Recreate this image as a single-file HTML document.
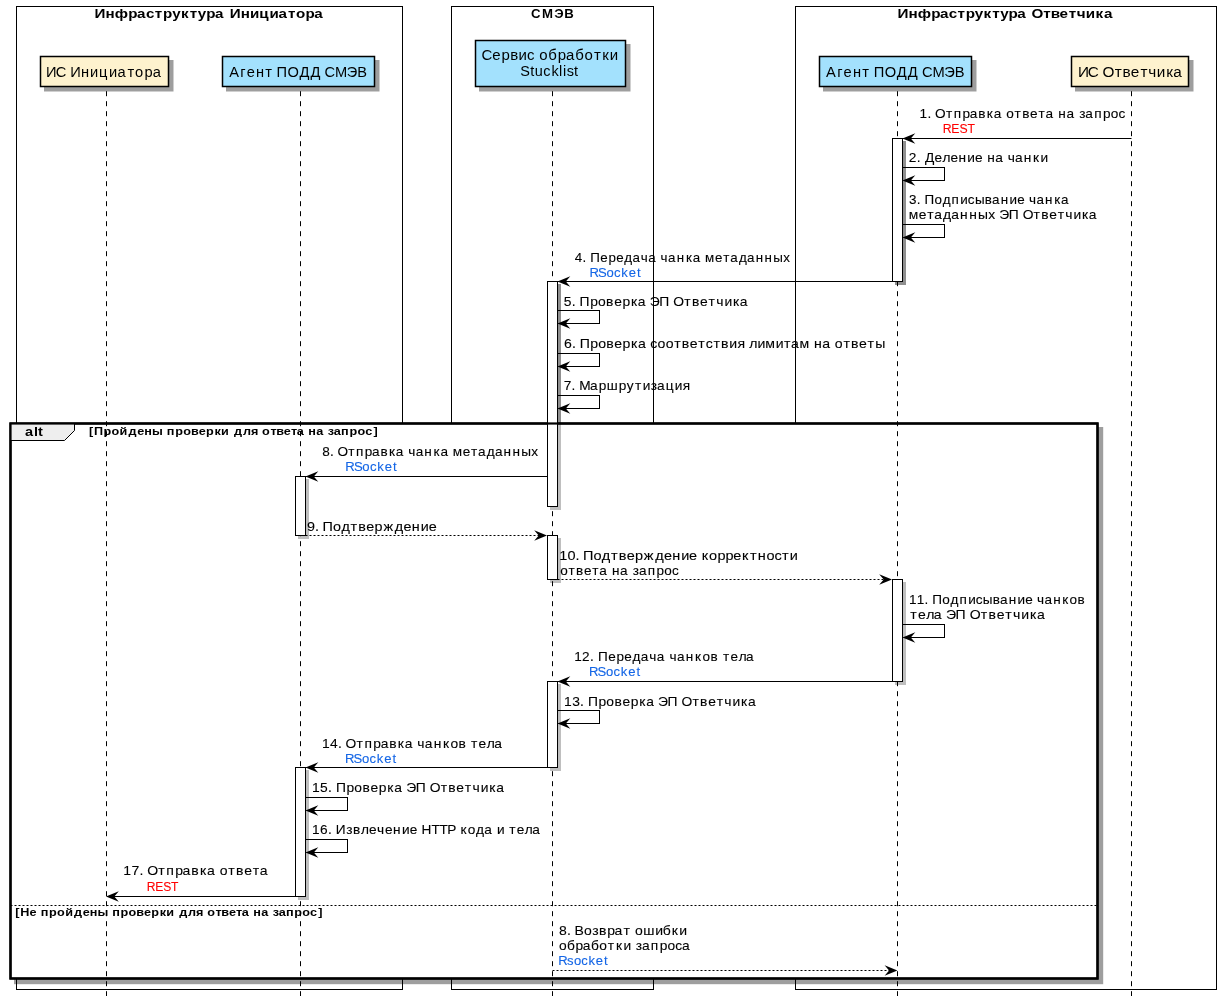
<!DOCTYPE html>
<html><head><meta charset="utf-8"><title>Sequence</title>
<style>
html,body{margin:0;padding:0;background:#fff;overflow:hidden;}
svg{display:block;will-change:transform;}
text{font-family:"Liberation Sans",sans-serif;}
</style></head>
<body>
<svg width="1221" height="1001" viewBox="0 0 1221 1001">

<rect x="0" y="0" width="1221" height="1001" fill="#fff"/>
<rect x="16.5" y="6.5" width="386.0" height="983.0" fill="#fff" stroke="#000" stroke-width="1"/>
<rect x="451.5" y="6.5" width="202.0" height="983.0" fill="#fff" stroke="#000" stroke-width="1"/>
<rect x="795.5" y="6.5" width="421.0" height="983.0" fill="#fff" stroke="#000" stroke-width="1"/>
<text transform="scale(1.1173,1)" x="84.49 94.49 102.70 114.83 122.69 130.70 138.61 146.00 154.13 162.00 169.79 177.06 184.52 192.38 200.85 205.54 215.53 223.77 232.10 241.20 249.24 257.82 264.98 273.47 281.33" y="17.90" font-size="13.58" font-weight="bold" stroke="#000" stroke-width="0.0">Инфраструктура Инициатора</text>
<text transform="scale(0.9721,1)" x="546.19 557.64 570.27 580.47" y="17.80" font-size="13.58" font-weight="bold" stroke="#000" stroke-width="0.0">СМЭВ</text>
<text transform="scale(1.1222,1)" x="799.72 809.62 817.74 829.76 837.55 845.48 853.32 860.63 868.68 876.46 884.18 891.38 898.76 906.54 914.96 919.24 929.58 936.34 944.17 952.27 959.46 967.58 976.33 983.71" y="17.90" font-size="13.58" font-weight="bold" stroke="#000" stroke-width="0.0">Инфраструктура Ответчика</text>
<rect x="44.00" y="60.00" width="129.50" height="31.50" fill="#000" fill-opacity="0.38"/>
<rect x="40.5" y="56.5" width="128.0" height="30.0" fill="#FEF2CE" stroke="#000" stroke-width="1.5"/>
<rect x="226.00" y="60.00" width="153.50" height="31.50" fill="#000" fill-opacity="0.38"/>
<rect x="222.5" y="56.5" width="152.0" height="30.0" fill="#A3E1FD" stroke="#000" stroke-width="1.5"/>
<rect x="479.00" y="44.00" width="151.50" height="47.50" fill="#000" fill-opacity="0.38"/>
<rect x="475.5" y="40.5" width="150.0" height="46.0" fill="#A3E1FD" stroke="#000" stroke-width="1.5"/>
<rect x="823.00" y="60.00" width="153.50" height="31.50" fill="#000" fill-opacity="0.38"/>
<rect x="819.5" y="56.5" width="152.0" height="30.0" fill="#A3E1FD" stroke="#000" stroke-width="1.5"/>
<rect x="1075.00" y="60.00" width="118.50" height="31.50" fill="#000" fill-opacity="0.38"/>
<rect x="1071.5" y="56.5" width="117.0" height="30.0" fill="#FEF2CE" stroke="#000" stroke-width="1.5"/>
<text transform="scale(1.0037,1)" x="45.95 55.54 66.04 70.07 80.67 89.64 98.77 108.73 117.01 127.08 134.61 143.91 152.18" y="76.80" font-size="14.63" stroke="#000" stroke-width="0.0">ИС Инициатора</text>
<text transform="scale(1.0000,1)" x="229.14 240.32 246.64 255.98 265.24 272.55 276.61 287.54 299.40 310.49 320.93 324.53 335.05 346.68 357.17" y="76.80" font-size="14.63" stroke="#000" stroke-width="0.0">Агент ПОДД СМЭВ</text>
<text transform="scale(1.0262,1)" x="469.12 479.65 488.64 497.26 505.27 513.65 521.53 525.56 534.15 543.40 551.45 560.55 569.57 578.88 586.87 594.25" y="60.00" font-size="14.63" stroke="#000" stroke-width="0.0">Сервис обработки</text>
<text transform="scale(0.9900,1)" x="525.63 535.56 540.13 548.69 557.04 564.78 568.73 572.40 579.90" y="76.30" font-size="14.63" stroke="#000" stroke-width="0.0">Stucklist</text>
<text transform="scale(1.0051,1)" x="821.85 833.02 839.34 848.69 857.95 865.25 869.32 880.24 892.10 903.19 913.64 917.24 927.75 939.39 949.87" y="76.80" font-size="14.63" stroke="#000" stroke-width="0.0">Агент ПОДД СМЭВ</text>
<text transform="scale(1.0476,1)" x="1028.95 1038.32 1048.71 1052.36 1064.10 1071.49 1079.34 1088.65 1096.06 1104.09 1113.37 1120.03" y="76.60" font-size="14.63" stroke="#000" stroke-width="0.0">ИС Ответчика</text>
<rect x="895.00" y="141.00" width="11.00" height="144.00" fill="#000" fill-opacity="0.25"/>
<rect x="892.5" y="138.5" width="10" height="143.0" fill="#fff" stroke="#000" stroke-width="1"/>
<rect x="550.00" y="284.00" width="11.00" height="226.00" fill="#000" fill-opacity="0.25"/>
<rect x="547.5" y="281.5" width="10" height="225.0" fill="#fff" stroke="#000" stroke-width="1"/>
<rect x="298.00" y="479.00" width="11.00" height="60.00" fill="#000" fill-opacity="0.25"/>
<rect x="295.5" y="476.5" width="10" height="59.0" fill="#fff" stroke="#000" stroke-width="1"/>
<rect x="550.00" y="538.00" width="11.00" height="45.00" fill="#000" fill-opacity="0.25"/>
<rect x="547.5" y="535.5" width="10" height="44.0" fill="#fff" stroke="#000" stroke-width="1"/>
<rect x="895.00" y="582.00" width="11.00" height="103.00" fill="#000" fill-opacity="0.25"/>
<rect x="892.5" y="579.5" width="10" height="102.0" fill="#fff" stroke="#000" stroke-width="1"/>
<rect x="550.00" y="684.00" width="11.00" height="87.00" fill="#000" fill-opacity="0.25"/>
<rect x="547.5" y="681.5" width="10" height="86.0" fill="#fff" stroke="#000" stroke-width="1"/>
<rect x="298.00" y="770.00" width="11.00" height="130.00" fill="#000" fill-opacity="0.25"/>
<rect x="295.5" y="767.5" width="10" height="129.0" fill="#fff" stroke="#000" stroke-width="1"/>
<rect x="14.00" y="427.00" width="1089.20" height="557.20" fill="#000" fill-opacity="0.38"/>
<rect x="10.5" y="423.5" width="1087.0" height="555.0" fill="#fff" stroke="#000" stroke-width="2.2"/>
<polygon points="10.5,423.5 74.5,423.5 74.5,430.5 64.5,440.5 10.5,440.5" fill="#EEEEEE" stroke="#000" stroke-width="1"/>
<text transform="scale(1.0715,1)" x="23.30 31.62 35.45" y="435.80" font-size="13.58" font-weight="bold" stroke="#000" stroke-width="0.0">alt</text>
<text transform="scale(1.1036,1)" x="80.75 85.28 93.70 100.93 108.40 116.33 124.36 130.71 137.81 147.37 151.15 158.72 165.95 173.11 180.10 186.59 194.36 200.37 207.75 212.02 220.12 227.33 233.77 237.48 245.05 250.21 257.20 263.63 268.93 275.57 279.34 286.58 293.22 297.02 302.37 309.07 316.64 323.87 330.96 338.39" y="435.30" font-size="11.49" font-weight="bold" stroke="#000" stroke-width="0.0">[Пройдены проверки для ответа на запрос]</text>
<line x1="10.5" y1="905.5" x2="1097.5" y2="905.5" stroke="#000" stroke-width="1" stroke-dasharray="2,2"/>
<text transform="scale(1.1027,1)" x="13.89 18.39 26.82 33.10 36.86 44.42 51.64 59.10 67.02 75.03 81.36 88.45 98.00 101.76 109.32 116.53 123.68 130.65 137.13 144.89 150.88 158.26 162.51 170.59 177.79 184.22 187.92 195.48 200.63 207.60 214.02 219.31 225.94 229.70 236.92 243.55 247.34 252.68 259.37 266.93 274.14 281.21 288.63" y="916.20" font-size="11.49" font-weight="bold" stroke="#000" stroke-width="0.0">[Не пройдены проверки для ответа на запрос]</text>
<line x1="106.5" y1="91.2" x2="106.5" y2="996" stroke="#000" stroke-width="1" stroke-dasharray="5,5"/>
<line x1="300.5" y1="91.2" x2="300.5" y2="996" stroke="#000" stroke-width="1" stroke-dasharray="5,5"/>
<line x1="552.5" y1="91.2" x2="552.5" y2="996" stroke="#000" stroke-width="1" stroke-dasharray="5,5"/>
<line x1="897.5" y1="91.2" x2="897.5" y2="996" stroke="#000" stroke-width="1" stroke-dasharray="5,5"/>
<line x1="1131.5" y1="91.2" x2="1131.5" y2="996" stroke="#000" stroke-width="1" stroke-dasharray="5,5"/>
<rect x="895.00" y="141.00" width="11.00" height="144.00" fill="#000" fill-opacity="0.25"/>
<rect x="892.5" y="138.5" width="10" height="143.0" fill="#fff" stroke="#000" stroke-width="1"/>
<rect x="550.00" y="284.00" width="11.00" height="226.00" fill="#000" fill-opacity="0.25"/>
<rect x="547.5" y="281.5" width="10" height="225.0" fill="#fff" stroke="#000" stroke-width="1"/>
<rect x="298.00" y="479.00" width="11.00" height="60.00" fill="#000" fill-opacity="0.25"/>
<rect x="295.5" y="476.5" width="10" height="59.0" fill="#fff" stroke="#000" stroke-width="1"/>
<rect x="550.00" y="538.00" width="11.00" height="45.00" fill="#000" fill-opacity="0.25"/>
<rect x="547.5" y="535.5" width="10" height="44.0" fill="#fff" stroke="#000" stroke-width="1"/>
<rect x="895.00" y="582.00" width="11.00" height="103.00" fill="#000" fill-opacity="0.25"/>
<rect x="892.5" y="579.5" width="10" height="102.0" fill="#fff" stroke="#000" stroke-width="1"/>
<rect x="550.00" y="684.00" width="11.00" height="87.00" fill="#000" fill-opacity="0.25"/>
<rect x="547.5" y="681.5" width="10" height="86.0" fill="#fff" stroke="#000" stroke-width="1"/>
<rect x="298.00" y="770.00" width="11.00" height="130.00" fill="#000" fill-opacity="0.25"/>
<rect x="295.5" y="767.5" width="10" height="129.0" fill="#fff" stroke="#000" stroke-width="1"/>
<rect x="10.5" y="423.5" width="1087" height="555" fill="none" stroke="#000" stroke-width="2.2"/>
<line x1="1131.5" y1="138.5" x2="903" y2="138.5" stroke="#000" stroke-width="1"/>
<polygon points="915.30,133.30 902.50,138.50 915.30,143.70 910.80,138.50" fill="#000"/>
<text transform="scale(1.0049,1)" x="915.11 922.95 926.76 930.51 941.27 949.10 957.87 965.10 973.56 982.07 988.88 997.13 1001.26 1009.66 1017.17 1025.09 1033.45 1040.42 1048.67 1053.09 1061.24 1069.48 1073.89 1080.07 1088.85 1097.63 1105.33 1113.08" y="118.00" font-size="13.58" stroke="#000" stroke-width="0.1">1. Отправка ответа на запрос</text>
<text transform="scale(0.9023,1)" x="1044.84 1054.37 1063.27 1072.19" y="133.10" font-size="13.58" fill="#FF0000" stroke="#FF0000" stroke-width="0.1">REST</text>
<line x1="902.5" y1="167.5" x2="944.5" y2="167.5" stroke="#000" stroke-width="1"/>
<line x1="944.5" y1="167.0" x2="944.5" y2="181.0" stroke="#000" stroke-width="1"/>
<line x1="944.5" y1="180.5" x2="903.5" y2="180.5" stroke="#000" stroke-width="1"/>
<polygon points="915.30,175.30 902.50,180.50 915.30,185.70 910.80,180.50" fill="#000"/>
<text transform="scale(1.0098,1)" x="900.01 907.87 911.66 916.01 925.51 933.42 941.16 949.23 957.96 965.61 973.27 977.59 985.62 993.81 997.90 1005.18 1013.78 1022.92 1030.34" y="162.20" font-size="13.58" stroke="#000" stroke-width="0.1">2. Деление на чанки</text>
<line x1="902.5" y1="224.5" x2="944.5" y2="224.5" stroke="#000" stroke-width="1"/>
<line x1="944.5" y1="224.0" x2="944.5" y2="238.0" stroke="#000" stroke-width="1"/>
<line x1="944.5" y1="237.5" x2="903.5" y2="237.5" stroke="#000" stroke-width="1"/>
<polygon points="915.30,232.30 902.50,237.50 915.30,242.70 910.80,237.50" fill="#000"/>
<text transform="scale(0.9900,1)" x="918.27 926.04 929.86 933.80 943.96 952.29 961.23 970.04 977.59 984.79 994.73 1002.15 1010.88 1019.76 1027.54 1035.27 1039.48 1046.90 1055.63 1064.92 1071.76" y="203.60" font-size="13.58" stroke="#000" stroke-width="0.1">3. Подписывание чанка</text>
<text transform="scale(1.0194,1)" x="891.35 901.22 909.53 916.45 925.18 933.19 941.84 950.70 959.31 969.34 976.85 980.25 989.57 999.50 1003.19 1013.90 1021.35 1029.22 1037.53 1044.99 1053.03 1061.32 1068.08" y="218.60" font-size="13.58" stroke="#000" stroke-width="0.1">метаданных ЭП Ответчика</text>
<line x1="892.5" y1="281.5" x2="558" y2="281.5" stroke="#000" stroke-width="1"/>
<polygon points="570.30,276.30 557.50,281.50 570.30,286.70 565.80,281.50" fill="#000"/>
<text transform="scale(0.9853,1)" x="583.34 591.17 595.00 599.02 609.30 617.50 625.34 633.70 641.86 650.42 657.90 666.19 670.47 677.95 686.76 696.12 703.02 711.32 715.57 725.61 734.06 741.12 750.01 758.17 766.97 776.00 784.79 794.97" y="261.90" font-size="13.58" stroke="#000" stroke-width="0.1">4. Передача чанка метаданных</text>
<text transform="scale(0.9656,1)" x="610.48 619.39 627.99 635.88 643.39 651.23 659.66" y="276.80" font-size="13.58" fill="#1466E6" stroke="#1466E6" stroke-width="0.1">RSocket</text>
<line x1="557.5" y1="310.5" x2="599.5" y2="310.5" stroke="#000" stroke-width="1"/>
<line x1="599.5" y1="310.0" x2="599.5" y2="324.0" stroke="#000" stroke-width="1"/>
<line x1="599.5" y1="323.5" x2="558.5" y2="323.5" stroke="#000" stroke-width="1"/>
<polygon points="570.30,318.30 557.50,323.50 570.30,328.70 565.80,323.50" fill="#000"/>
<text transform="scale(1.0228,1)" x="551.20 558.99 562.79 566.67 576.98 584.65 592.60 600.49 608.57 616.87 623.65 631.88 635.30 644.64 654.58 658.30 669.03 676.50 684.39 692.72 700.19 708.26 716.56 723.34" y="305.80" font-size="13.58" stroke="#000" stroke-width="0.1">5. Проверка ЭП Ответчика</text>
<line x1="557.5" y1="353.5" x2="599.5" y2="353.5" stroke="#000" stroke-width="1"/>
<line x1="599.5" y1="353.0" x2="599.5" y2="367.0" stroke="#000" stroke-width="1"/>
<line x1="599.5" y1="366.5" x2="558.5" y2="366.5" stroke="#000" stroke-width="1"/>
<polygon points="570.30,361.30 557.50,366.50 570.30,371.70 565.80,366.50" fill="#000"/>
<text transform="scale(1.0382,1)" x="543.29 550.94 554.71 558.43 568.59 576.13 583.95 591.70 599.64 607.81 614.46 622.62 626.42 633.38 641.14 649.38 656.71 664.47 672.67 679.78 687.22 694.55 702.48 710.29 717.70 721.80 729.65 737.19 747.11 755.13 761.94 770.18 779.80 784.05 792.02 800.17 804.14 812.38 819.71 827.47 835.66 842.97" y="347.70" font-size="13.58" stroke="#000" stroke-width="0.1">6. Проверка соответствия лимитам на ответы</text>
<line x1="557.5" y1="395.5" x2="599.5" y2="395.5" stroke="#000" stroke-width="1"/>
<line x1="599.5" y1="395.0" x2="599.5" y2="409.0" stroke="#000" stroke-width="1"/>
<line x1="599.5" y1="408.5" x2="558.5" y2="408.5" stroke="#000" stroke-width="1"/>
<polygon points="570.30,403.30 557.50,408.50 570.30,413.70 565.80,408.50" fill="#000"/>
<text transform="scale(1.0069,1)" x="559.90 567.69 571.50 575.38 586.07 594.72 602.71 614.56 622.51 630.68 638.36 646.35 652.54 661.26 670.11 678.08" y="390.00" font-size="13.58" stroke="#000" stroke-width="0.1">7. Маршрутизация</text>
<line x1="547.5" y1="476.5" x2="306" y2="476.5" stroke="#000" stroke-width="1"/>
<polygon points="318.30,471.30 305.50,476.50 318.30,481.70 313.80,476.50" fill="#000"/>
<text transform="scale(1.0010,1)" x="321.90 329.66 333.46 337.20 347.95 355.76 364.52 371.73 380.17 388.67 395.47 403.71 407.88 415.26 423.95 433.19 439.99 448.23 452.37 462.29 470.63 477.59 486.36 494.41 503.10 512.00 520.66 530.73" y="456.20" font-size="13.58" stroke="#000" stroke-width="0.1">8. Отправка чанка метаданных</text>
<text transform="scale(0.9685,1)" x="356.56 365.47 374.07 381.96 389.47 397.31 405.74" y="471.30" font-size="13.58" fill="#1466E6" stroke="#1466E6" stroke-width="0.1">RSocket</text>
<line x1="305.5" y1="535.5" x2="546" y2="535.5" stroke="#000" stroke-width="1" stroke-dasharray="2,2"/>
<polygon points="534.20,530.30 547.00,535.50 534.20,540.70 538.70,535.50" fill="#000"/>
<text transform="scale(1.0598,1)" x="289.58 297.14 300.87 304.42 314.18 322.13 330.82 337.98 345.58 353.35 361.76 372.50 380.75 388.59 397.07 404.50" y="530.80" font-size="13.58" stroke="#000" stroke-width="0.1">9. Подтверждение</text>
<line x1="557.5" y1="579.5" x2="891" y2="579.5" stroke="#000" stroke-width="1" stroke-dasharray="2,2"/>
<polygon points="879.20,574.30 892.00,579.50 879.20,584.70 883.70,579.50" fill="#000"/>
<text transform="scale(1.0682,1)" x="523.58 531.19 538.67 542.38 545.86 555.54 563.42 572.04 579.13 586.67 594.36 602.69 613.35 621.52 629.29 637.70 645.07 652.59 656.94 663.86 671.60 679.14 686.51 694.62 702.02 709.36 717.55 724.94 732.17 739.43" y="560.30" font-size="13.58" stroke="#000" stroke-width="0.1">10. Подтверждение корректности</text>
<text transform="scale(0.9993,1)" x="560.54 568.94 576.45 584.37 592.73 599.70 607.95 612.37 620.52 628.76 633.17 639.35 648.13 656.91 664.61 672.37" y="575.20" font-size="13.58" stroke="#000" stroke-width="0.1">ответа на запрос</text>
<line x1="902.5" y1="624.5" x2="944.5" y2="624.5" stroke="#000" stroke-width="1"/>
<line x1="944.5" y1="624.0" x2="944.5" y2="638.0" stroke="#000" stroke-width="1"/>
<line x1="944.5" y1="637.5" x2="903.5" y2="637.5" stroke="#000" stroke-width="1"/>
<polygon points="915.30,632.30 902.50,637.50 915.30,642.70 910.80,637.50" fill="#000"/>
<text transform="scale(0.9986,1)" x="910.16 918.07 925.88 929.69 933.57 943.67 951.95 960.83 969.59 977.09 984.23 994.11 1001.48 1010.16 1018.98 1026.71 1034.41 1038.57 1045.94 1054.62 1063.85 1071.12 1079.07" y="603.60" font-size="13.58" stroke="#000" stroke-width="0.1">11. Подписывание чанков</text>
<text transform="scale(1.0355,1)" x="879.14 886.60 894.56 901.84 910.06 913.47 922.79 932.73 936.43 947.14 954.60 962.48 970.80 978.26 986.31 994.60 1001.38" y="618.70" font-size="13.58" stroke="#000" stroke-width="0.1">тела ЭП Ответчика</text>
<line x1="892.5" y1="681.5" x2="558" y2="681.5" stroke="#000" stroke-width="1"/>
<polygon points="570.30,676.30 557.50,681.50 570.30,686.70 565.80,681.50" fill="#000"/>
<text transform="scale(0.9992,1)" x="574.61 582.53 590.55 594.38 598.41 608.70 616.91 624.76 633.13 641.29 649.86 657.35 665.65 669.94 677.43 686.25 695.62 703.01 711.09 718.86 723.56 731.17 739.28 746.70" y="660.80" font-size="13.58" stroke="#000" stroke-width="0.1">12. Передача чанков тела</text>
<text transform="scale(0.9646,1)" x="610.62 619.53 628.14 636.02 643.53 651.37 659.81" y="675.90" font-size="13.58" fill="#1466E6" stroke="#1466E6" stroke-width="0.1">RSocket</text>
<line x1="557.5" y1="710.5" x2="599.5" y2="710.5" stroke="#000" stroke-width="1"/>
<line x1="599.5" y1="710.0" x2="599.5" y2="724.0" stroke="#000" stroke-width="1"/>
<line x1="599.5" y1="723.5" x2="558.5" y2="723.5" stroke="#000" stroke-width="1"/>
<polygon points="570.30,718.30 557.50,723.50 570.30,728.70 565.80,723.50" fill="#000"/>
<text transform="scale(1.0206,1)" x="552.61 560.60 568.33 572.14 576.03 586.35 594.04 601.99 609.89 617.98 626.29 633.09 641.32 644.75 654.10 664.05 667.78 678.52 686.00 693.90 702.24 709.73 717.80 726.12 732.91" y="705.60" font-size="13.58" stroke="#000" stroke-width="0.1">13. Проверка ЭП Ответчика</text>
<line x1="547.5" y1="767.5" x2="306" y2="767.5" stroke="#000" stroke-width="1"/>
<polygon points="318.30,762.30 305.50,767.50 318.30,772.70 313.80,767.50" fill="#000"/>
<text transform="scale(1.0183,1)" x="316.21 324.17 331.91 335.71 339.42 350.14 357.91 366.65 373.83 382.25 390.72 397.50 405.72 409.87 417.22 425.89 435.10 442.36 450.30 457.99 462.56 470.01 477.99 485.27" y="747.60" font-size="13.58" stroke="#000" stroke-width="0.1">14. Отправка чанков тела</text>
<text transform="scale(0.9646,1)" x="357.67 366.59 375.19 383.07 390.59 398.43 406.86" y="762.60" font-size="13.58" fill="#1466E6" stroke="#1466E6" stroke-width="0.1">RSocket</text>
<line x1="305.5" y1="797.5" x2="347.5" y2="797.5" stroke="#000" stroke-width="1"/>
<line x1="347.5" y1="797.0" x2="347.5" y2="811.0" stroke="#000" stroke-width="1"/>
<line x1="347.5" y1="810.5" x2="306.5" y2="810.5" stroke="#000" stroke-width="1"/>
<polygon points="318.30,805.30 305.50,810.50 318.30,815.70 313.80,810.50" fill="#000"/>
<text transform="scale(1.0209,1)" x="305.62 313.55 321.35 325.16 329.06 339.39 347.08 355.04 362.95 371.04 379.36 386.16 394.40 397.84 407.20 417.15 420.88 431.63 439.12 447.02 455.37 462.86 470.94 479.26 486.06" y="791.60" font-size="13.58" stroke="#000" stroke-width="0.1">15. Проверка ЭП Ответчика</text>
<line x1="305.5" y1="839.5" x2="347.5" y2="839.5" stroke="#000" stroke-width="1"/>
<line x1="347.5" y1="839.0" x2="347.5" y2="853.0" stroke="#000" stroke-width="1"/>
<line x1="347.5" y1="852.5" x2="306.5" y2="852.5" stroke="#000" stroke-width="1"/>
<polygon points="318.30,847.30 305.50,852.50 318.30,857.70 313.80,852.50" fill="#000"/>
<text transform="scale(1.0071,1)" x="309.81 317.82 325.59 329.40 333.30 343.73 350.44 358.45 366.31 374.25 382.18 390.36 399.22 406.97 414.69 418.60 428.37 436.30 444.01 452.38 457.15 464.45 472.76 480.83 489.07 493.44 500.97 505.59 513.09 521.11 528.43" y="833.70" font-size="13.58" stroke="#000" stroke-width="0.1">16. Извлечение HTTP кода и тела</text>
<line x1="295.5" y1="896.5" x2="107" y2="896.5" stroke="#000" stroke-width="1"/>
<polygon points="118.80,891.30 106.00,896.50 118.80,901.70 114.30,896.50" fill="#000"/>
<text transform="scale(1.0353,1)" x="119.06 126.96 134.69 138.48 142.15 152.82 160.56 169.25 176.40 184.78 193.21 199.95 208.16 212.21 220.54 227.96 235.81 244.09 250.98" y="875.50" font-size="13.58" stroke="#000" stroke-width="0.1">17. Отправка ответа</text>
<text transform="scale(0.8908,1)" x="164.72 174.25 183.15 192.07" y="890.70" font-size="13.58" fill="#FF0000" stroke="#FF0000" stroke-width="0.1">REST</text>
<line x1="552.5" y1="970.5" x2="896" y2="970.5" stroke="#000" stroke-width="1" stroke-dasharray="2,2"/>
<polygon points="884.60,965.30 897.40,970.50 884.60,975.70 889.10,970.50" fill="#000"/>
<text transform="scale(1.0326,1)" x="541.41 549.05 552.82 556.47 565.51 573.56 580.11 588.04 595.11 603.83 611.02 614.99 622.99 634.61 641.95 650.54 657.89" y="934.80" font-size="13.58" stroke="#000" stroke-width="0.1">8. Возврат ошибки</text>
<text transform="scale(1.0155,1)" x="550.58 558.28 566.61 573.81 581.99 590.10 598.48 606.54 614.03 621.56 625.94 632.10 640.85 649.60 657.28 665.01 671.62" y="949.80" font-size="13.58" stroke="#000" stroke-width="0.1">обработки запроса</text>
<text transform="scale(0.9610,1)" x="580.90 590.11 597.18 604.95 612.34 620.06 628.40" y="964.90" font-size="13.58" fill="#1466E6" stroke="#1466E6" stroke-width="0.1">Rsocket</text>
</svg>
</body></html>
